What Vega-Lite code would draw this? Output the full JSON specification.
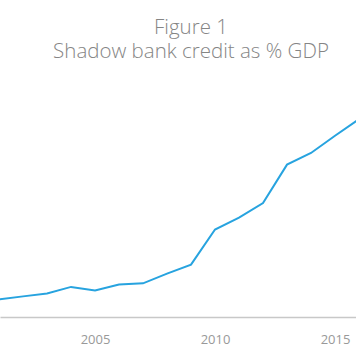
{
  "$schema": "https://vega.github.io/schema/vega-lite/v6.json",
  "width": 356,
  "height": 237,
  "autosize": {"type": "none"},
  "padding": {"left": 0, "top": 80, "right": 0, "bottom": 47},
  "background": "white",
  "title": {
    "text": ["Figure 1", "Shadow bank credit as % GDP"],
    "anchor": "middle",
    "dx": 13,
    "font": "Open Sans",
    "fontWeight": 300,
    "fontSize": 20.5,
    "lineHeight": 24,
    "color": "#858585",
    "offset": 18
  },
  "config": {"view": {"stroke": null}},
  "data": {
    "values": [
      {"year": 2001, "value": 7.4},
      {"year": 2002, "value": 8.7},
      {"year": 2003, "value": 9.9},
      {"year": 2004, "value": 12.7},
      {"year": 2005, "value": 11.2},
      {"year": 2006, "value": 13.7},
      {"year": 2007, "value": 14.2},
      {"year": 2008, "value": 18.3},
      {"year": 2009, "value": 22.1},
      {"year": 2010, "value": 36.9},
      {"year": 2011, "value": 41.9},
      {"year": 2012, "value": 48.1},
      {"year": 2013, "value": 64.3},
      {"year": 2014, "value": 69.2},
      {"year": 2015, "value": 76.5},
      {"year": 2016, "value": 83.5}
    ]
  },
  "mark": {"type": "line", "color": "#27a3df", "strokeWidth": 2, "clip": true},
  "encoding": {
    "x": {
      "field": "year",
      "type": "quantitative",
      "scale": {"domain": [2001.04, 2015.875], "nice": false, "zero": false},
      "axis": {
        "title": null,
        "values": [2005, 2010, 2015],
        "format": "d",
        "grid": false,
        "ticks": false,
        "labelPadding": 16,
        "labelFont": "Open Sans",
        "labelFontSize": 13,
        "labelColor": "#999999",
        "domainColor": "#c8c8c8",
        "domainWidth": 1.5
      }
    },
    "y": {
      "field": "value",
      "type": "quantitative",
      "scale": {"domain": [0, 100], "nice": false},
      "axis": null
    }
  }
}
